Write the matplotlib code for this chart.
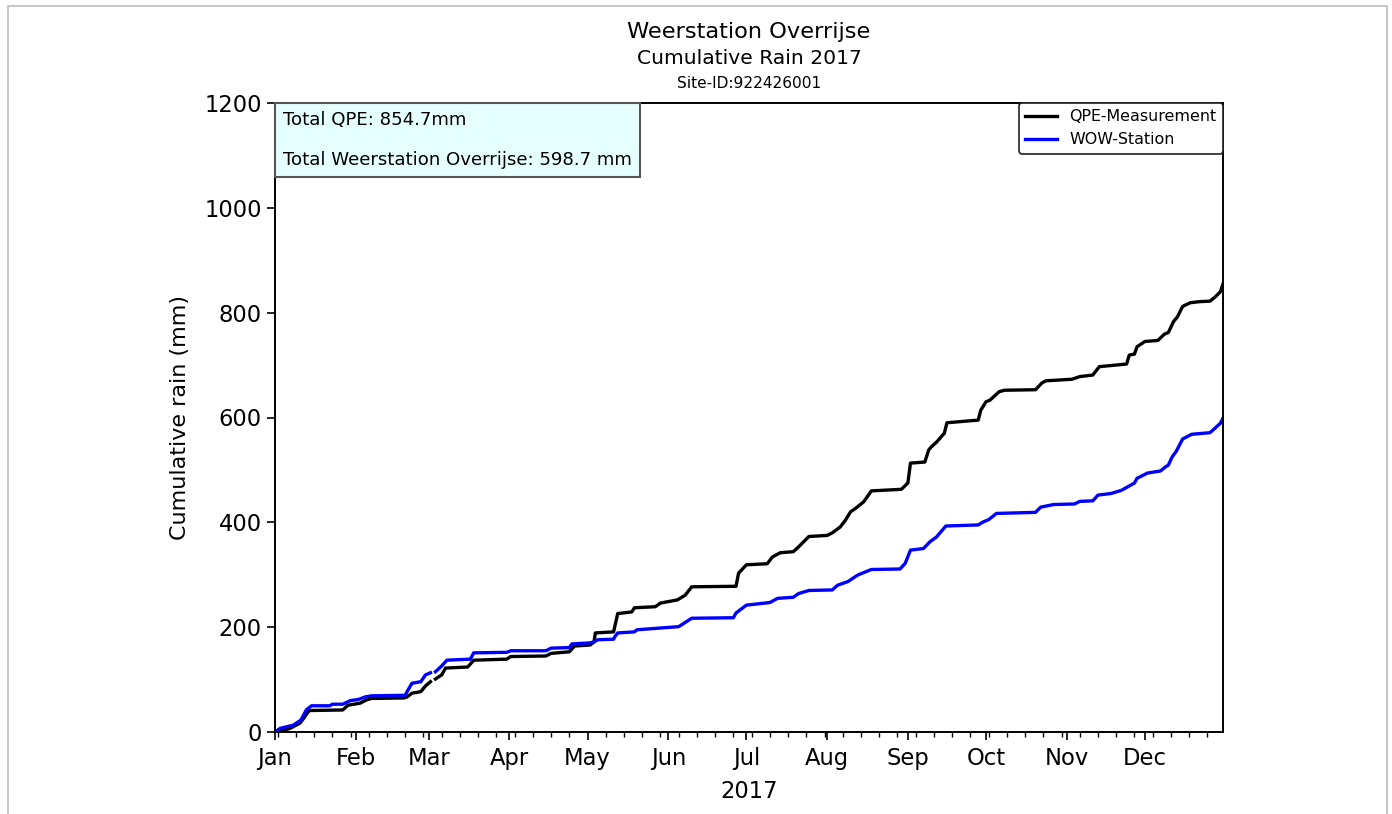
import matplotlib
matplotlib.use('Agg')
import matplotlib.pyplot as plt
import matplotlib.dates as mdates
from matplotlib.offsetbox import AnchoredText
from matplotlib.patches import Rectangle
import numpy as np


##################### DATA #####################

station_name = 'Weerstation Overrijse'
year = 2017
site_id = '922426001'

# day offsets from 1 Jan 2017 and cumulative rain (mm); nan = gap in data
qpe_days = [0, 3, 5.8, 9.6, 11, 12.8, 13.5, 26, 28, 32.7, 35, 37, 49.5, 50.7,
            52.6, 56, 57.8, 59.7, 60.4, 61.6, 64, 65.5, 74, 76.3, 89, 90.5,
            104, 106, 113, 115, 121, 122.5, 123, 130, 131.6, 137, 138, 146,
            148, 154.5, 157.5, 160, 177, 178, 181, 189, 191, 194, 199, 201,
            205, 212, 214, 217, 219, 221, 223, 226, 229, 240.5, 243, 244,
            249.5, 251, 252, 254, 257, 258, 270, 271, 273, 274.5, 278, 280,
            292, 294.5, 296, 306, 309, 314, 316.5, 327, 328, 330, 331, 334,
            339, 341.5, 343, 345, 346.5, 348.5, 351.5, 355, 359, 361, 363,
            364]
qpe_mm = [0, 3, 7, 17, 26, 39, 41, 42, 51, 55, 61, 64, 65, 67,
          74, 77, 88, 96, np.nan, 101, 109, 122, 124, 137, 139, 144,
          145, 150, 153, 164, 166, 172, 189, 191, 226, 229, 237, 239,
          246, 252, 261, 277, 278, 303, 319, 321, 334, 342, 344, 353,
          373, 375, 380, 391, 404, 420, 427, 439, 460, 463, 475, 513,
          515, 538, 544, 553, 570, 590, 595, 614, 630, 633, 649, 652,
          653, 666, 670, 673, 678, 681, 697, 702, 719, 721, 735, 745,
          747, 759, 762, 783, 792, 812, 819, 821, 822, 830, 840,
          854.7]

wow_days = [0, 2, 7, 10, 12, 14, 21, 22, 26, 29, 32, 34.7, 37, 50, 50.7,
            52.6, 56, 57.8, 59.7, 60.4, 61.6, 64, 66, 75, 76.3, 89, 90.5,
            104, 106, 113, 114, 121, 122.5, 124, 130, 130.5, 131.6, 138,
            139, 147, 155, 157.5, 160, 176, 177, 181, 190, 193, 199, 201,
            205, 214, 216, 220, 223, 224, 229, 240, 242, 244, 249, 251.5,
            254, 255, 257.6, 270, 272, 274, 277, 292, 294, 299, 307, 309,
            314, 316, 321, 325, 330, 331, 335, 340, 342, 343, 344.5, 346,
            348.5, 352, 359, 363, 364]
wow_mm = [0, 7, 13, 23, 42, 50, 50, 53, 53, 60, 62, 67, 69, 70, 77,
          93, 96, 109, 113, np.nan, 115, 126, 137, 139, 151, 152, 155,
          155, 160, 161, 168, 170, 172, 176, 177, 182, 189, 191,
          195, 198, 201, 209, 217, 218, 227, 242, 247, 255, 257, 264,
          270, 271, 280, 287, 297, 300, 310, 311, 322, 347, 350, 363,
          372, 378, 393, 395, 401, 405, 417, 419, 429, 434, 435, 440,
          441, 452, 455, 461, 475, 484, 494, 498, 506, 509, 525, 535,
          559, 568, 571, 589, 598.7]

total_qpe = 854.7
total_wow = 598.7


##################### PLOT #####################

start = mdates.date2num(np.datetime64(f'{year}-01-01'))
x_qpe = start + np.array(qpe_days)
x_wow = start + np.array(wow_days)

fig = plt.figure(figsize=(13.92, 8.14), dpi=100)
ax = fig.add_axes([275 / 1392, 1 - 732 / 814, 948 / 1392, 629 / 814])

ax.plot(x_qpe, qpe_mm, color='black', linewidth=2.4, label='QPE-Measurement')
ax.plot(x_wow, wow_mm, color='blue', linewidth=2.4, label='WOW-Station')

ax.set_xlim(start, start + 364)
ax.set_ylim(0, 1200)
ax.xaxis_date()
ax.xaxis.set_major_locator(mdates.MonthLocator())
ax.xaxis.set_major_formatter(mdates.DateFormatter('%b'))
ax.xaxis.set_minor_locator(mdates.WeekdayLocator(byweekday=mdates.MO))
ax.yaxis.set_major_locator(plt.MultipleLocator(200))

ax.tick_params(which='major', labelsize=16.3, length=6, width=1.2)
ax.tick_params(axis='x', which='major', pad=5)
ax.tick_params(which='minor', length=3.5, width=1)
for sp in ax.spines.values():
    sp.set_linewidth(1.4)

ax.set_xlabel(str(year), fontsize=16.3, labelpad=7)
ax.set_ylabel('Cumulative rain (mm)', fontsize=16, labelpad=10)

leg = ax.legend(loc='upper right', fontsize=11.4, borderaxespad=0,
                fancybox=True, framealpha=1, handlelength=2.0)
leg.get_frame().set_edgecolor('#222222')
leg.get_frame().set_linewidth(1.2)

at = AnchoredText(f'Total QPE: {total_qpe}mm\n\n'
                  f'Total {station_name}: {total_wow} mm',
                  loc='upper left', borderpad=0, pad=0.45,
                  prop=dict(size=13.1, linespacing=1.13))
at.patch.set_boxstyle('square,pad=0')
at.patch.set_facecolor('#e6ffff')
at.patch.set_edgecolor('#555555')
at.patch.set_linewidth(1.5)
ax.add_artist(at)

cx = (275 + 1223) / 2 / 1392
fig.text(cx, 1 - 32 / 814, station_name, ha='center', va='center', fontsize=16.2)
fig.text(cx, 1 - 58 / 814, f'Cumulative Rain {year}', ha='center', va='center', fontsize=14.6)
fig.text(cx, 1 - 84 / 814, f'Site-ID:{site_id}', ha='center', va='center', fontsize=11.1)

# light grey frame around the figure (bottom edge is off-canvas)
fig.add_artist(Rectangle((7.5 / 1392, -0.1), (1387 - 7.5) / 1392, 1.1 - 6.5 / 814,
                         transform=fig.transFigure, fill=False,
                         edgecolor='#c8c8c8', linewidth=1.5, clip_on=False))

fig.savefig('out.png', dpi=100)
plt.close(fig)
